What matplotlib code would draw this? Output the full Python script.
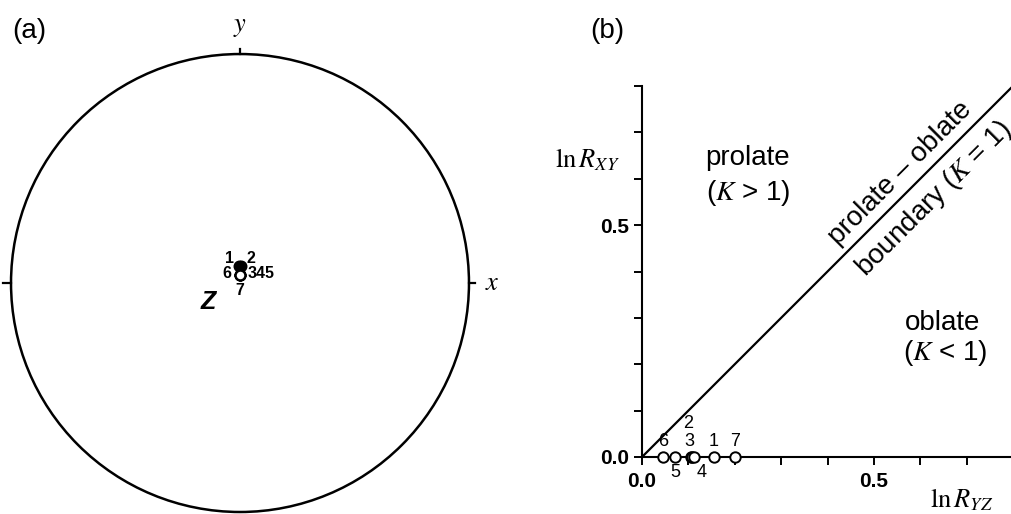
import matplotlib
matplotlib.use('Agg')
from matplotlib import pyplot as plt
from matplotlib.patches import Circle

import numpy as np

plt.rcParams['font.family'] = ['Liberation Sans', 'DejaVu Sans']
plt.rcParams['mathtext.fontset'] = 'stix'

# stereonet (a): projected fabric points
net_labels = ['1', '2', '3', '4', '5', '6', '7']
net_x = [-0.004, 0.004, 0.002, 0.0, -0.002, 0.001, 0.0]
net_y = [0.073, 0.074, 0.037, 0.036, 0.035, 0.036, 0.033]
net_filled = [True, True, False, False, False, False, False]

# shape diagram (b): ln R_YZ vs ln R_XY
sample_labels = ['1', '2', '3', '4', '5', '6', '7']
ln_ryz = [0.155, 0.105, 0.108, 0.113, 0.071, 0.045, 0.200]
ln_rxy = [0.0, 0.0, 0.0, 0.0, 0.0, 0.0, 0.0]
axis_ticks = [0.0, 0.1, 0.2, 0.3, 0.4, 0.5, 0.6, 0.7, 0.8]
tick_labels = ['0.0', '', '', '', '', '0.5', '', '', '']
boundary = [0.0, 0.8]

fig = plt.figure(figsize=[10.12, 5.14], dpi=100)

# ***** (a) stereonet *****
ax1 = fig.add_axes([-0.00045, -0.00056, 0.4752, 1.0068])
ax1.set_xlim(-1.05, 1.05)
ax1.set_ylim(-1.01, 1.25)
ax1.set_aspect('equal')
ax1.axis('off')

ax1.add_patch(Circle((0, 0), 1.0, fill=False, lw=1.8, color='black', clip_on=False))
ax1.plot([0, 0], [1.0, 1.024], color='black', lw=1.6, clip_on=False)
ax1.plot([-1.0, -1.035], [0, 0], color='black', lw=1.6, clip_on=False)
ax1.plot([1.0, 1.028], [0, 0], color='black', lw=1.6, clip_on=False)

for i in range(len(net_x)):
	face = 'black' if net_filled[i] else 'white'
	ax1.plot(net_x[i], net_y[i], 'o', ms=7, mfc=face, mec='black', mew=1.6, clip_on=False)

ax1.text(-0.044, 0.106, '1', fontsize=11.5, fontweight='bold', ha='center', va='center')
ax1.text(0.048, 0.108, '2', fontsize=11.5, fontweight='bold', ha='center', va='center')
ax1.text(-0.056, 0.040, '6', fontsize=11.5, fontweight='bold', ha='center', va='center')
ax1.text(0.090, 0.042, '345', fontsize=11.5, fontweight='bold', ha='center', va='center')
ax1.text(0.0, -0.032, '7', fontsize=11.5, fontweight='bold', ha='center', va='center')

ax1.text(0.0, 1.118, r'$y$', fontsize=19, ha='center', va='center', clip_on=False)
ax1.text(1.10, 0.0, r'$x$', fontsize=19, ha='center', va='center', clip_on=False)
ax1.text(-0.14, -0.083, 'Z', fontsize=18, fontweight='bold', fontstyle='italic', ha='center', va='center')

fig.text(29 / 1012, 1 - 31 / 514, '(a)', fontsize=20, ha='center', va='center')
fig.text(607 / 1012, 1 - 31 / 514, '(b)', fontsize=20, ha='center', va='center')

# ***** (b) shape diagram *****
ax2 = fig.add_axes([642 / 1012, 57 / 514, 371 / 1012, 371 / 514])
ax2.set_xlim(0, 0.8)
ax2.set_ylim(0, 0.8)
ax2.spines['top'].set_visible(False)
ax2.spines['right'].set_visible(False)
ax2.spines['left'].set_linewidth(1.5)
ax2.spines['bottom'].set_linewidth(1.5)
ax2.set_xticks(axis_ticks)
ax2.set_yticks(axis_ticks)
ax2.set_xticklabels(tick_labels, fontsize=15, fontweight='bold')
ax2.set_yticklabels(tick_labels, fontsize=15, fontweight='bold')
ax2.tick_params(direction='out', length=6, width=1.4, pad=3)
ax2.tick_params(axis='x', pad=5)

ax2.plot(boundary, boundary, color='black', lw=1.6, clip_on=False)

ax2.plot(ln_ryz, ln_rxy, 'o', ms=7.5, mfc='white', mec='black', mew=1.4, clip_on=False, zorder=5)

label_offsets = {'1': (0, 11), '2': (-2, 24), '3': (-2, 11), '4': (5, -11),
	'5': (0, -11), '6': (0, 11), '7': (0, 11)}
for lab, xv, yv in zip(sample_labels, ln_ryz, ln_rxy):
	ax2.annotate(lab, (xv, yv), xytext=label_offsets[lab], textcoords='offset points',
		fontsize=13, ha='center', va='center', annotation_clip=False)

ax2.text(0.228, 0.644, 'prolate', fontsize=20, ha='center', va='center')
ax2.text(0.228, 0.569, r'($\mathit{K}$ > 1)', fontsize=20, ha='center', va='center')
ax2.text(0.649, 0.289, 'oblate', fontsize=20, ha='center', va='center')
ax2.text(0.653, 0.224, r'($\mathit{K}$ < 1)', fontsize=20, ha='center', va='center')
ax2.text(0.556, 0.612, 'prolate \u2013 oblate', fontsize=20, rotation=45,
	rotation_mode='anchor', ha='center', va='center')
ax2.text(0.630, 0.556, r'boundary ($\mathit{K}$ = 1)', fontsize=20, rotation=45,
	rotation_mode='anchor', ha='center', va='center', clip_on=False)

fig.text(587 / 1012, 1 - 160 / 514, r'$\mathrm{ln}\,R_{XY}$', fontsize=19, ha='center', va='center')
fig.text(962 / 1012, 1 - 500 / 514, r'$\mathrm{ln}\,R_{YZ}$', fontsize=19, ha='center', va='center')

plt.savefig('out.png', dpi=100)
plt.close()
